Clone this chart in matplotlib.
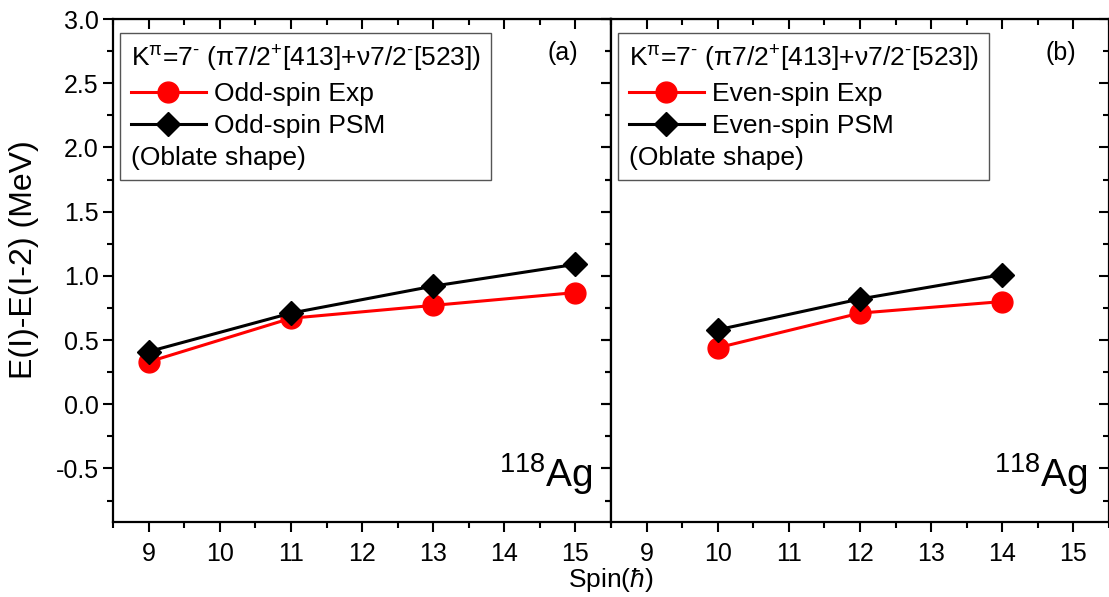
import matplotlib
matplotlib.use('Agg')
import matplotlib.pyplot as plt
from matplotlib.ticker import MultipleLocator
from matplotlib.offsetbox import TextArea

plt.rcParams['font.family'] = ['Liberation Sans', 'DejaVu Sans']
plt.rcParams['mathtext.fontset'] = 'custom'
plt.rcParams['mathtext.rm'] = 'Liberation Sans'
plt.rcParams['mathtext.it'] = 'Liberation Sans:italic'
plt.rcParams['mathtext.bf'] = 'Liberation Sans:bold'
plt.rcParams['axes.unicode_minus'] = False

# data (118Ag, oblate)
odd_spin = [9, 11, 13, 15]
odd_exp = [0.33, 0.67, 0.77, 0.87]
odd_psm = [0.41, 0.71, 0.92, 1.09]

even_spin = [10, 12, 14]
even_exp = [0.44, 0.71, 0.80]
even_psm = [0.58, 0.82, 1.01]

xticks = [9, 10, 11, 12, 13, 14, 15]
yticks = [-0.5, 0.0, 0.5, 1.0, 1.5, 2.0, 2.5, 3.0]

title = r'K$^{\text{π}}$=7$^{\text{-}}$ (π7/2$^{+}$[413]+ν7/2$^{\text{-}}$[523])'

fig = plt.figure(figsize=(11.09, 5.97), dpi=100)
ax1 = fig.add_axes([0.102, 0.125, 0.449, 0.843])
ax2 = fig.add_axes([0.551, 0.125, 0.449, 0.843])


def setup(ax, show_ylabels):
    ax.set_xlim(8.5, 15.5)
    ax.set_ylim(-0.92, 3.0)
    ax.set_xticks(xticks)
    ax.set_yticks(yticks)
    ax.xaxis.set_minor_locator(MultipleLocator(0.5))
    ax.yaxis.set_minor_locator(MultipleLocator(0.25))
    ax.tick_params(which='both', direction='out', width=1.5, labelsize=18, colors='black')
    ax.tick_params(which='major', length=7)
    ax.tick_params(which='minor', length=4)
    ax.tick_params(axis='x', pad=7)
    if not show_ylabels:
        ax.tick_params(axis='y', labelleft=False)
    for s in ax.spines.values():
        s.set_linewidth(1.6)
    # mirrored inner ticks on top / right
    top = ax.secondary_xaxis('top')
    top.set_xticks(xticks)
    top.xaxis.set_minor_locator(MultipleLocator(0.5))
    top.tick_params(which='both', direction='in', width=1.5, labeltop=False)
    top.tick_params(which='major', length=7)
    top.tick_params(which='minor', length=4)
    right = ax.secondary_yaxis('right')
    right.set_yticks(yticks)
    right.yaxis.set_minor_locator(MultipleLocator(0.25))
    right.tick_params(which='both', direction='in', width=1.5, labelright=False)
    right.tick_params(which='major', length=7)
    right.tick_params(which='minor', length=4)


def add_legend(ax, labels, handles):
    leg = ax.legend(handles, labels, title=title, loc='upper left',
                    bbox_to_anchor=(0.014, 0.972), borderaxespad=0,
                    alignment='left', fontsize=19, title_fontsize=19,
                    frameon=True, fancybox=False, edgecolor='#555555',
                    framealpha=1, handlelength=2.85, handletextpad=0.3,
                    borderpad=0.4, labelspacing=0.3, numpoints=1)
    leg.get_frame().set_linewidth(1.0)
    extra = TextArea('(Oblate shape)', textprops=dict(fontsize=19))
    leg._legend_box._children.append(extra)
    extra.set_figure(fig)
    return leg


setup(ax1, True)
setup(ax2, False)

e1, = ax1.plot(odd_spin, odd_exp, color='red', lw=2.2, marker='o', ms=15, zorder=3)
p1, = ax1.plot(odd_spin, odd_psm, color='black', lw=2.2, marker='D', ms=12, zorder=4)
add_legend(ax1, ['Odd-spin Exp', 'Odd-spin PSM'], [e1, p1])

e2, = ax2.plot(even_spin, even_exp, color='red', lw=2.2, marker='o', ms=15, zorder=3)
p2, = ax2.plot(even_spin, even_psm, color='black', lw=2.2, marker='D', ms=12, zorder=4)
add_legend(ax2, ['Even-spin Exp', 'Even-spin PSM'], [e2, p2])

ax1.text(0.904, 0.932, '(a)', transform=ax1.transAxes, fontsize=18, ha='center', va='center')
ax2.text(0.904, 0.932, '(b)', transform=ax2.transAxes, fontsize=18, ha='center', va='center')

ax1.text(0.964, 0.07, r'$^{118}$Ag', transform=ax1.transAxes, fontsize=28, ha='right', va='baseline')
ax2.text(0.958, 0.07, r'$^{118}$Ag', transform=ax2.transAxes, fontsize=28, ha='right', va='baseline')

fig.text(0.551, 0.028, r'Spin($\hbar$)', fontsize=19, ha='center', va='center')
fig.text(0.022, 0.565, 'E(I)-E(I-2) (MeV)', fontsize=23, ha='center', va='center', rotation=90)

fig.savefig('out.png', dpi=100)
